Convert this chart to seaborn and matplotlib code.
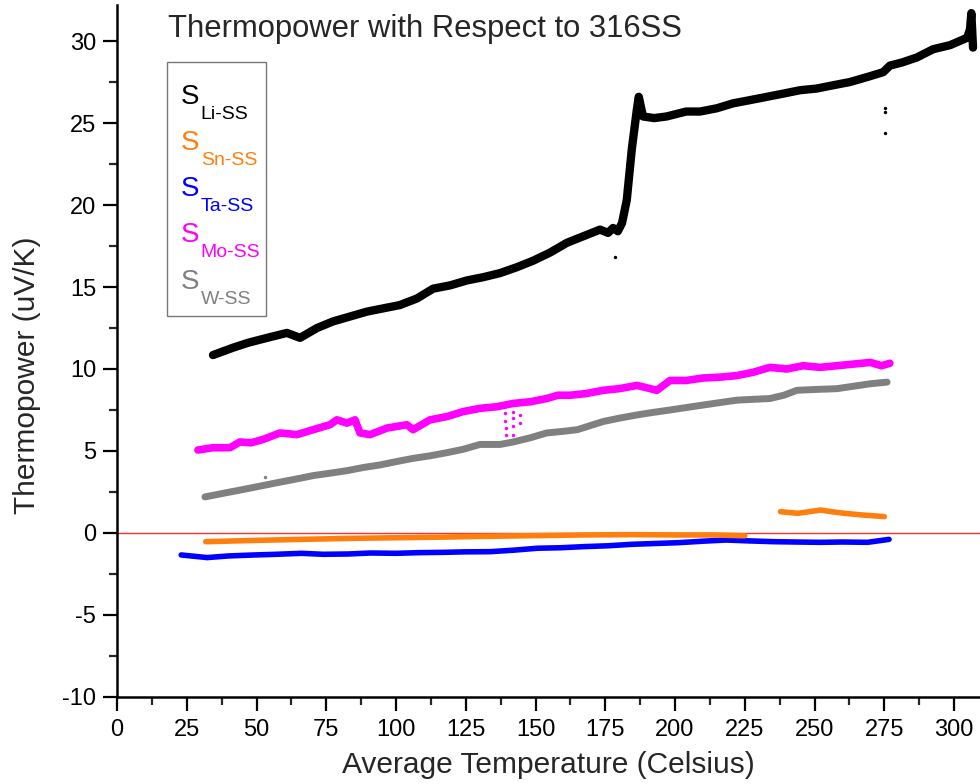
import matplotlib
matplotlib.use("Agg")
import matplotlib.pyplot as plt
from matplotlib.lines import Line2D
from matplotlib.ticker import MultipleLocator
import seaborn as sns
import pandas as pd

# ---- measured thermopower traces (x: average temperature in C, y: uV/K) ----
li_x = [34.4, 41.6, 47.0, 53.8, 60.9, 65.6, 71.7, 77.4, 83.5, 89.6, 95.5, 101.4,
        107.5, 113.3, 119.4, 125.4, 131.3, 137.3, 143.2, 149.1, 155.2, 161.3,
        167.2, 173.1, 176.0, 177.8, 179.5, 181.0, 182.7, 184.5, 186.3, 187.0,
        188.5, 192.5, 197.0, 204.0, 209.0, 215.0, 220.8, 227.0, 233.0, 239.0,
        244.8, 250.7, 256.6, 262.7, 268.8, 274.6, 277.0, 281.5, 286.7, 292.5,
        298.6, 302.0, 304.7, 305.7, 306.2, 306.8]
li_y = [10.85, 11.3, 11.6, 11.9, 12.2, 11.9, 12.5, 12.9, 13.2, 13.5, 13.7, 13.9,
        14.3, 14.9, 15.1, 15.4, 15.6, 15.85, 16.2, 16.6, 17.1, 17.7,
        18.1, 18.5, 18.3, 18.6, 18.4, 18.9, 20.3, 23.4, 25.8, 26.6,
        25.4, 25.3, 25.4, 25.7, 25.7, 25.9, 26.2, 26.4, 26.6, 26.8,
        27.0, 27.1, 27.3, 27.5, 27.8, 28.1, 28.5, 28.7, 29.0, 29.5,
        29.75, 30.0, 30.2, 30.7, 31.7, 29.6]
li_out_x = [178.5, 275.2, 275.2, 275.2]
li_out_y = [16.8, 25.9, 25.7, 24.4]

sn_x1 = [31.8, 50.0, 66.1, 83.0, 100.0, 117.0, 133.8, 150.7, 167.6, 184.5, 201.4, 214.0, 225.0]
sn_y1 = [-0.53, -0.45, -0.39, -0.33, -0.29, -0.25, -0.2, -0.16, -0.12, -0.1, -0.12, -0.12, -0.17]
sn_x2 = [237.8, 244.0, 252.2, 256.0, 260.7, 267.0, 275.0]
sn_y2 = [1.3, 1.2, 1.4, 1.3, 1.2, 1.1, 1.0]

ta_x = [23.0, 32.3, 40.0, 49.2, 57.0, 66.1, 74.0, 83.0, 91.0, 100.0, 108.0, 117.0,
        125.0, 133.8, 142.0, 150.7, 159.0, 167.6, 176.0, 184.6, 193.0, 201.4,
        210.0, 218.3, 226.0, 235.3, 243.0, 252.2, 260.0, 269.0, 276.7]
ta_y = [-1.34, -1.5, -1.4, -1.34, -1.3, -1.24, -1.3, -1.28, -1.22, -1.24, -1.2, -1.18,
        -1.15, -1.14, -1.05, -0.93, -0.9, -0.83, -0.78, -0.69, -0.64, -0.59,
        -0.5, -0.43, -0.48, -0.53, -0.55, -0.57, -0.55, -0.57, -0.39]

mo_x = [29.0, 34.4, 40.5, 44.0, 48.0, 52.3, 58.4, 64.5, 70.3, 76.3, 78.8, 82.4,
        85.3, 87.1, 90.7, 96.8, 103.9, 106.1, 112.2, 118.3, 124.0, 130.1, 136.2,
        142.0, 148.0, 154.0, 158.0, 162.4, 168.0, 174.3, 180.0, 186.4, 193.5,
        198.2, 204.0, 210.0, 216.0, 222.2, 228.0, 234.0, 240.0, 245.9, 252.0,
        258.0, 264.0, 270.0, 274.0, 277.0]
mo_y = [5.06, 5.2, 5.2, 5.55, 5.5, 5.7, 6.1, 6.0, 6.3, 6.6, 6.9, 6.7,
        6.9, 6.1, 6.0, 6.4, 6.6, 6.3, 6.9, 7.1, 7.4, 7.6, 7.7,
        7.9, 8.0, 8.2, 8.4, 8.4, 8.5, 8.7, 8.8, 9.0, 8.7,
        9.3, 9.3, 9.45, 9.5, 9.6, 9.8, 10.1, 10.0, 10.2, 10.1,
        10.2, 10.3, 10.4, 10.2, 10.35]
mo_out_x = [139.2, 139.2, 139.4, 139.4, 141.8, 141.8, 142.0, 142.0, 142.1, 144.5, 144.5]
mo_out_y = [7.3, 6.8, 6.4, 6.0, 7.4, 7.0, 6.5, 6.0, 5.6, 7.2, 6.7]

w_x = [31.5, 39.0, 46.6, 52.5, 58.4, 64.5, 70.3, 76.5, 82.4, 88.5, 94.3, 100.0,
       106.1, 112.0, 118.3, 124.0, 130.1, 137.3, 142.0, 148.0, 154.0, 160.0,
       165.0, 174.3, 180.0, 186.4, 192.0, 198.2, 204.0, 210.0, 216.0, 222.2,
       228.0, 234.0, 239.0, 243.7, 250.0, 258.0, 264.0, 270.0, 276.0]
w_y = [2.2, 2.45, 2.7, 2.9, 3.1, 3.3, 3.5, 3.65, 3.8, 4.0, 4.15, 4.35,
       4.55, 4.7, 4.9, 5.1, 5.4, 5.4, 5.55, 5.8, 6.1, 6.2,
       6.3, 6.8, 7.0, 7.2, 7.35, 7.5, 7.65, 7.8, 7.95, 8.1,
       8.15, 8.2, 8.4, 8.7, 8.75, 8.8, 8.95, 9.1, 9.2]
w_out_x = [53.0]
w_out_y = [3.4]

names = ["Li-SS", "Sn-SS", "Ta-SS", "Mo-SS", "W-SS"]
colors = ["#000000", "#FF7F0E", "#0000FF", "#FF00FF", "#808080"]

# ---- style ----
sns.set_theme(style="ticks")
plt.rcParams["font.family"] = ["Liberation Sans", "DejaVu Sans"]
plt.rcParams["axes.unicode_minus"] = False

fig = plt.figure(figsize=(9.8, 7.84), dpi=100)
ax = fig.add_axes([0.1194, 0.111, 0.8806, 0.8827])

def trace(x, y, color, lw):
    df = pd.DataFrame({"T": x, "S": y})
    sns.lineplot(data=df, x="T", y="S", ax=ax, color=color, linewidth=lw,
                 sort=False, estimator=None, legend=False)

def dots(x, y, color, size):
    df = pd.DataFrame({"T": x, "S": y})
    sns.scatterplot(data=df, x="T", y="S", ax=ax, color=color, s=size,
                    linewidth=0, legend=False)

ax.axhline(0, color="#FF3030", linewidth=1.0, zorder=1)

trace(w_x, w_y, colors[4], 5.0)
dots(w_out_x, w_out_y, colors[4], 6)
trace(mo_x, mo_y, colors[3], 5.5)
dots(mo_out_x, mo_out_y, colors[3], 6)
trace(ta_x, ta_y, colors[2], 4.0)
trace(sn_x1, sn_y1, colors[1], 4.0)
trace(sn_x2, sn_y2, colors[1], 4.0)
trace(li_x, li_y, colors[0], 6.0)
dots(li_out_x, li_out_y, colors[0], 6)

ax.set_xlim(0, 309.3)
ax.set_ylim(-10, 32.2)
ax.xaxis.set_major_locator(MultipleLocator(25))
ax.xaxis.set_minor_locator(MultipleLocator(12.5))
ax.yaxis.set_major_locator(MultipleLocator(5))
ax.yaxis.set_minor_locator(MultipleLocator(2.5))
ax.tick_params(which="major", direction="out", length=10, width=1.6,
               labelsize=17, colors="black")
ax.tick_params(which="minor", direction="out", length=5.5, width=1.6)
ax.tick_params(axis="x", which="major", pad=6)
ax.tick_params(axis="y", which="major", pad=5)
for side in ("top", "right"):
    ax.spines[side].set_visible(False)
for side in ("left", "bottom"):
    ax.spines[side].set_linewidth(1.8)
    ax.spines[side].set_color("black")

ax.set_xlabel("Average Temperature (Celsius)", fontsize=21.5, labelpad=7)
ax.set_ylabel("Thermopower (uV/K)", fontsize=21.5, labelpad=15, y=0.465)

ax.text(18.3, 30.24, "Thermopower with Respect to 316SS", fontsize=22.3,
        va="baseline", ha="left")

# legend: coloured "S" entries in a plain box, subscripts hung below-right
handles = [Line2D([], [], linestyle="none") for _ in names]
x0 = (167 - 117) / 863
w = (266 - 167) / 863
top = (697 - 62) / 692
leg = ax.legend(handles, ["S"] * len(names), loc="upper left",
                bbox_to_anchor=(x0, top - 0.3, w, 0.3), mode="expand",
                borderaxespad=0, handlelength=0, handletextpad=-0.27,
                fontsize=20, labelspacing=0.73, borderpad=0.78,
                fancybox=False, frameon=True, labelcolor=colors)
leg.get_frame().set_edgecolor("#555555")
leg.get_frame().set_linewidth(1.0)
for txt, name, col in zip(leg.get_texts(), names, colors):
    ax.annotate(name, xy=(1, 0), xycoords=txt, xytext=(0.8, -6.5),
                textcoords="offset points", va="baseline", ha="left",
                fontsize=14, color=col, zorder=6, annotation_clip=False)

fig.canvas.draw()
fig.savefig("out.png", dpi=100)
